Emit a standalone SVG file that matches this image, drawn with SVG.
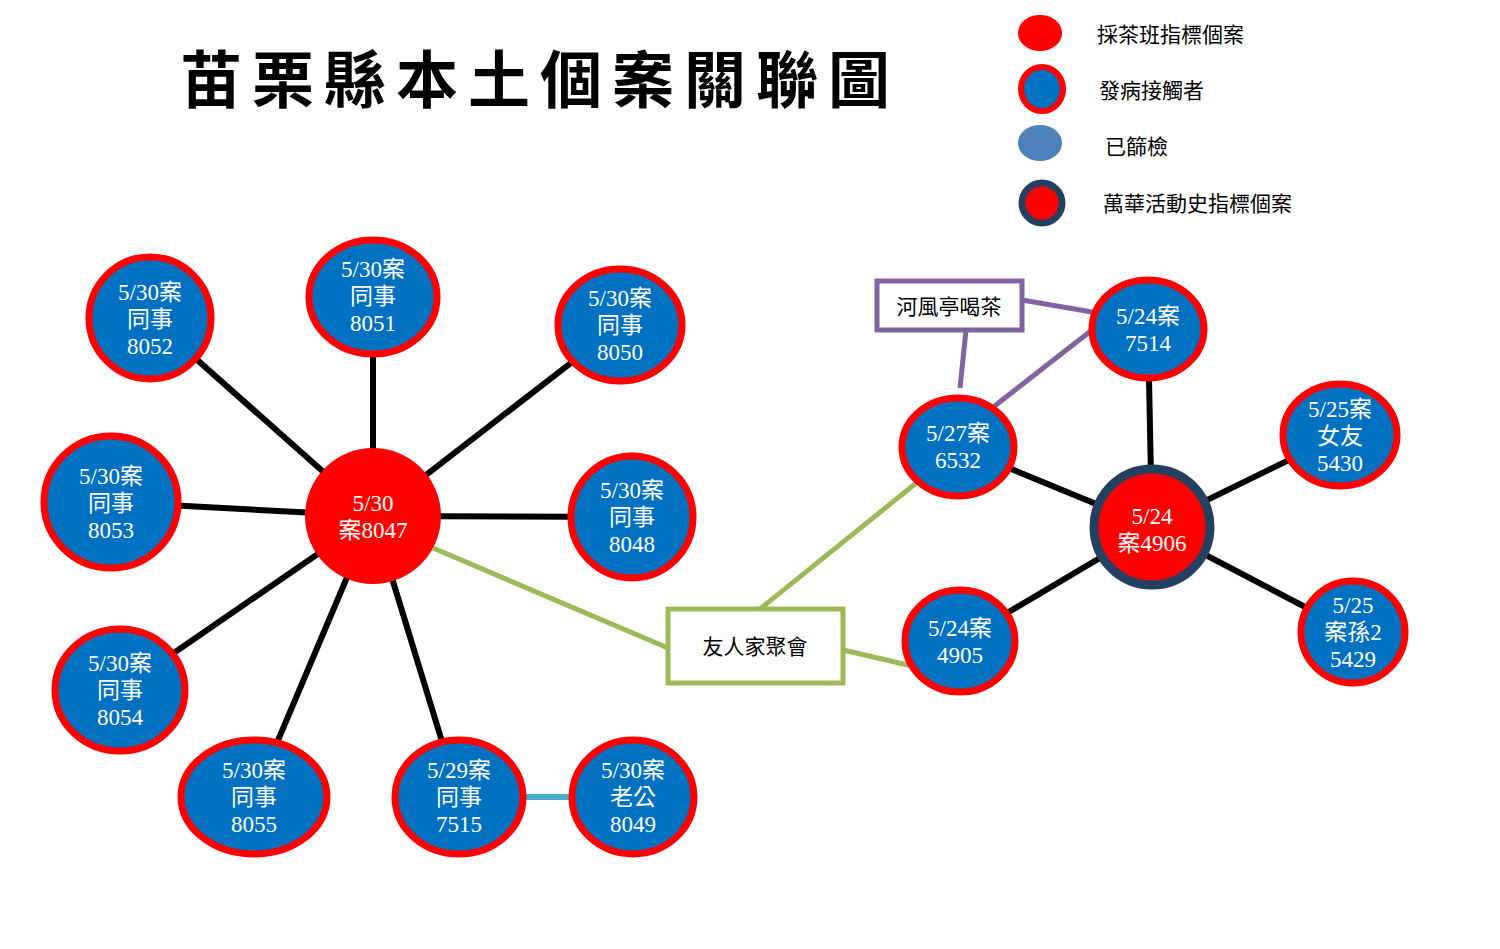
<svg xmlns="http://www.w3.org/2000/svg" width="1500" height="949" viewBox="0 0 1500 949">
<style>
.c{fill:#0070c0;stroke:#ff0000;stroke-width:7}
.t{fill:#fff;font-family:"Liberation Serif","Noto Sans CJK TC",serif;font-size:23px;text-anchor:middle}
.k{fill:#000;font-family:"Noto Sans CJK TC",serif;font-size:21px}
.e{stroke:#000;stroke-width:6;fill:none}
.g{stroke:#9bbb59;stroke-width:5;fill:none}
.p{stroke:#8064a2;stroke-width:5;fill:none}
</style>
<rect width="1500" height="949" fill="#fff"/>
<text x="180" y="103" font-family="Noto Sans CJK TC,serif" font-size="62" font-weight="bold" letter-spacing="10">苗栗縣本土個案關聯圖</text>
<g id="legend">
<ellipse cx="1040" cy="33" rx="22" ry="18" fill="#ff0000"/>
<ellipse cx="1042" cy="89" rx="21" ry="22" fill="#0070c0" stroke="#ff0000" stroke-width="6"/>
<ellipse cx="1040" cy="143" rx="22" ry="18" fill="#4f81bd"/>
<ellipse cx="1042" cy="203" rx="20" ry="20" fill="#ff0000" stroke="#243f60" stroke-width="7"/>
<text class="k" x="1097" y="42">採茶班指標個案</text>
<text class="k" x="1099" y="98">發病接觸者</text>
<text class="k" x="1105" y="154">已篩檢</text>
<text class="k" x="1103" y="211">萬華活動史指標個案</text>
</g>
<g id="connectors">
<line class="e" x1="373" y1="516" x2="150" y2="318"/>
<line class="e" x1="373" y1="516" x2="373" y2="297"/>
<line class="e" x1="373" y1="516" x2="620" y2="325"/>
<line class="e" x1="373" y1="516" x2="111" y2="502"/>
<line class="e" x1="373" y1="516" x2="632" y2="517"/>
<line class="e" x1="373" y1="516" x2="120" y2="690"/>
<line class="e" x1="373" y1="516" x2="254" y2="797"/>
<line class="e" x1="373" y1="516" x2="459" y2="797"/>
<line x1="520" y1="797" x2="575" y2="797" stroke="#4bacc6" stroke-width="6"/>
<line class="e" x1="1152" y1="527" x2="958" y2="447"/>
<line class="e" x1="1152" y1="527" x2="1148" y2="329"/>
<line class="e" x1="1152" y1="527" x2="1340" y2="435"/>
<line class="e" x1="1152" y1="527" x2="960" y2="641"/>
<line class="e" x1="1152" y1="527" x2="1353" y2="632"/>
<line class="g" x1="433" y1="548" x2="668" y2="648"/>
<line class="g" x1="760" y1="609" x2="920" y2="480"/>
<line class="g" x1="843" y1="650" x2="912" y2="666"/>
<line class="p" x1="1022" y1="300" x2="1092" y2="312"/>
<line class="p" x1="966" y1="330" x2="960" y2="388"/>
<line class="p" x1="992" y1="408" x2="1092" y2="330"/>
</g>
<g id="n8052"><ellipse class="c" cx="150" cy="318" rx="61" ry="61"/><text class="t" x="150" y="300">5/30案</text><text class="t" x="150" y="327">同事</text><text class="t" x="150" y="354">8052</text></g>
<g id="n8051"><ellipse class="c" cx="373" cy="297" rx="64" ry="57"/><text class="t" x="373" y="277">5/30案</text><text class="t" x="373" y="304">同事</text><text class="t" x="373" y="331">8051</text></g>
<g id="n8050"><ellipse class="c" cx="620" cy="325" rx="62" ry="56"/><text class="t" x="620" y="306">5/30案</text><text class="t" x="620" y="333">同事</text><text class="t" x="620" y="360">8050</text></g>
<g id="n8053"><ellipse class="c" cx="111" cy="502" rx="67" ry="66"/><text class="t" x="111" y="484">5/30案</text><text class="t" x="111" y="511">同事</text><text class="t" x="111" y="538">8053</text></g>
<g id="n8047"><circle cx="373" cy="516" r="68" fill="#ff0000"/><text class="t" x="373" y="511">5/30</text><text class="t" x="373" y="538">案8047</text></g>
<g id="n8048"><ellipse class="c" cx="632" cy="517" rx="61" ry="61"/><text class="t" x="632" y="498">5/30案</text><text class="t" x="632" y="525">同事</text><text class="t" x="632" y="552">8048</text></g>
<g id="n8054"><ellipse class="c" cx="120" cy="690" rx="65" ry="61"/><text class="t" x="120" y="671">5/30案</text><text class="t" x="120" y="698">同事</text><text class="t" x="120" y="725">8054</text></g>
<g id="n8055"><ellipse class="c" cx="254" cy="797" rx="73" ry="57"/><text class="t" x="254" y="778">5/30案</text><text class="t" x="254" y="805">同事</text><text class="t" x="254" y="832">8055</text></g>
<g id="n7515"><ellipse class="c" cx="459" cy="797" rx="64" ry="57"/><text class="t" x="459" y="778">5/29案</text><text class="t" x="459" y="805">同事</text><text class="t" x="459" y="832">7515</text></g>
<g id="n8049"><ellipse class="c" cx="633" cy="797" rx="61" ry="57"/><text class="t" x="633" y="778">5/30案</text><text class="t" x="633" y="805">老公</text><text class="t" x="633" y="832">8049</text></g>
<g id="n6532"><ellipse class="c" cx="958" cy="447" rx="56" ry="49"/><text class="t" x="958" y="441">5/27案</text><text class="t" x="958" y="468">6532</text></g>
<g id="n7514"><ellipse class="c" cx="1148" cy="329" rx="56" ry="49"/><text class="t" x="1148" y="324">5/24案</text><text class="t" x="1148" y="351">7514</text></g>
<g id="n5430"><ellipse class="c" cx="1340" cy="435" rx="57" ry="51"/><text class="t" x="1340" y="417">5/25案</text><text class="t" x="1340" y="444">女友</text><text class="t" x="1340" y="471">5430</text></g>
<g id="n4906"><circle cx="1152" cy="527" r="58" fill="#ff0000" stroke="#243f60" stroke-width="9"/><text class="t" x="1152" y="524">5/24</text><text class="t" x="1152" y="551">案4906</text></g>
<g id="n4905"><ellipse class="c" cx="960" cy="641" rx="55" ry="51"/><text class="t" x="960" y="636">5/24案</text><text class="t" x="960" y="663">4905</text></g>
<g id="n5429"><ellipse class="c" cx="1353" cy="632" rx="52" ry="51"/><text class="t" x="1353" y="613">5/25</text><text class="t" x="1353" y="640">案孫2</text><text class="t" x="1353" y="667">5429</text></g>
<g id="b1"><rect x="877" y="281" width="145" height="49" fill="#fff" stroke="#8064a2" stroke-width="5"/><text class="k" x="949" y="314" text-anchor="middle">河風亭喝茶</text></g>
<g id="b2"><rect x="668" y="609" width="175" height="74" fill="#fff" stroke="#9bbb59" stroke-width="5"/><text class="k" x="755" y="654" text-anchor="middle">友人家聚會</text></g>
</svg>
